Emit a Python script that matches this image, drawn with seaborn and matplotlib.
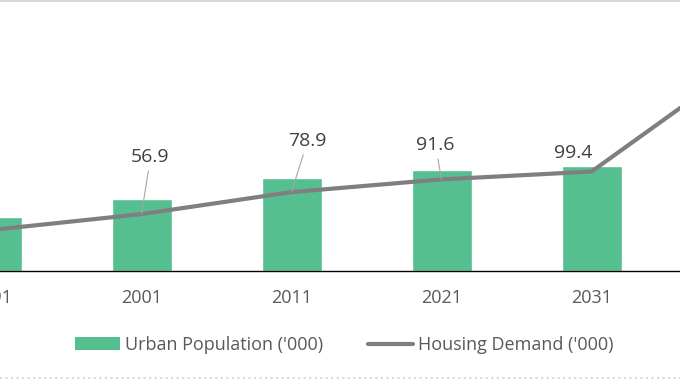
"""
Urban population vs housing demand (bar + line combo)
"""

import matplotlib

matplotlib.use("Agg")
import matplotlib.pyplot as plt
import numpy as np
import pandas as pd
import seaborn as sns
from matplotlib.lines import Line2D
from matplotlib.patches import Patch

# data
years = ["1991", "2001", "2011", "2021", "2031", "2041"]
urban_pop = [54, 72, 93, 101, 105, 110]
housing_demand = [41.0, 56.9, 78.9, 91.6, 99.4, 207.0]
labelled = ["2001", "2011", "2021", "2031"]

BAR_COLOR = "#55BF8F"
LINE_COLOR = "#7F7F7F"
TEXT_COLOR = "#595959"

df = pd.DataFrame({"year": years, "urban": urban_pop, "housing": housing_demand})

sns.set_style("white")
plt.rcParams["font.family"] = ["Open Sans", "DejaVu Sans"]

fig = plt.figure(figsize=(6.8, 3.8), dpi=100)
# the reference is a crop of a wider chart: the axes run past both figure edges
# category i sits at pixel -8.5 + 150 * i
left_px = -8.5 - 0.5 * 150
width_px = 150 * len(years)
ax = fig.add_axes([left_px / 680, 1 - 271 / 380, width_px / 680, 271 / 380])

sns.barplot(data=df, x="year", y="urban", color=BAR_COLOR, width=0.4, saturation=1, ax=ax)
sns.lineplot(x=np.arange(len(years)), y=df["housing"], color=LINE_COLOR, lw=3, ax=ax)

# data labels with leader lines (offsets in pixels, tuned by eye)
offsets = {"2001": (9, 57), "2011": (16, 51), "2021": (-6, 34), "2031": (-18, 19)}
leaders = {"2001": True, "2011": True, "2021": True, "2031": False}
for yr in labelled:
    i = years.index(yr)
    val = housing_demand[i]
    ax.annotate(
        f"{val:.1f}",
        xy=(i, val),
        xytext=offsets[yr],
        textcoords="offset pixels",
        ha="center",
        va="center",
        fontsize=14,
        color="#404040",
        arrowprops=dict(arrowstyle="-", color="#A6A6A6", lw=0.8, shrinkA=1, shrinkB=0) if leaders[yr] else None,
    )

ax.set_xlim(-0.5, len(years) - 0.5)
ax.set_ylim(0, 271)
ax.set_xlabel("")
ax.set_ylabel("")
ax.set_yticks([])
ax.tick_params(axis="x", length=0, pad=13, labelsize=13, labelcolor=TEXT_COLOR)
# last category lies past the crop in the reference, its label is not shown
ax.get_xticklabels()[-1].set_visible(False)
for side in ["top", "right", "left"]:
    ax.spines[side].set_visible(False)
ax.spines["bottom"].set_color("#000000")
ax.spines["bottom"].set_linewidth(1.0)

handles = [
    Patch(facecolor=BAR_COLOR, edgecolor="none", label="Urban Population ('000)"),
    Line2D([0], [0], color=LINE_COLOR, lw=3, label="Housing Demand ('000)"),
]
fig.legend(
    handles=handles,
    loc="center",
    bbox_to_anchor=(344 / 680, 1 - 345 / 380),
    ncol=2,
    frameon=False,
    fontsize=13,
    labelcolor=TEXT_COLOR,
    handlelength=2.5,
    handletextpad=0.25,
    columnspacing=2.5,
)

# chart-area border remnants at top and bottom
fig.add_artist(Line2D([0, 1], [0.998, 0.998], transform=fig.transFigure, color="#D9D9D9", lw=1.5))
fig.add_artist(Line2D([0, 1], [0.006, 0.006], transform=fig.transFigure, color="#D9D9D9", lw=1.5, ls=":"))

fig.savefig("out.png", dpi=100)
